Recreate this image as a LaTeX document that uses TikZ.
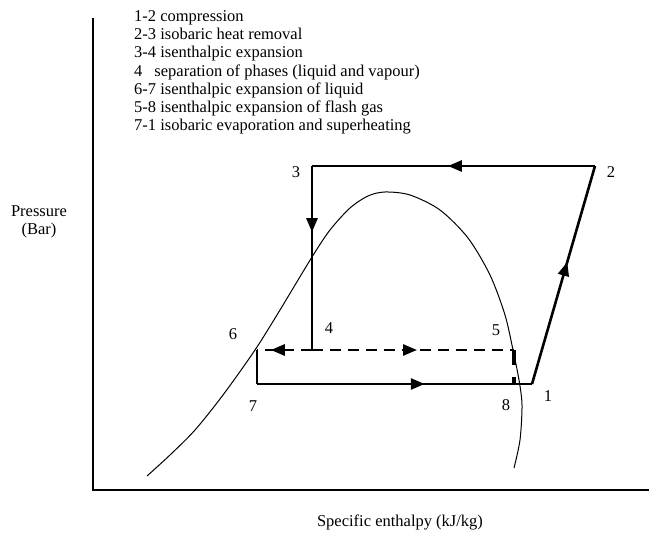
\documentclass[tikz,border=0pt]{standalone}
\usepackage{fontspec}
\setmainfont{Liberation Serif}
\usetikzlibrary{arrows.meta,decorations.markings}
\tikzset{
  axisline/.style={line width=1.8pt,black},
  cycleline/.style={line width=2.6pt,black,line cap=butt,line join=miter},
  dashline/.style={cycleline,dash pattern=on 11pt off 7pt},
  dome/.style={line width=1pt,black},
  lbl/.style={font=\fontsize{16.5}{18.3}\selectfont,inner sep=0pt},
  midarrow/.style={postaction={decorate,decoration={markings,
      mark=at position #1 with {\arrow[solid]{Triangle[length=14pt,width=11pt]}}}}}
}
\begin{document}
\begin{tikzpicture}[x=1pt,y=-1pt]
\useasboundingbox (0,0) rectangle (649,540);
% axes
\coordinate (ytop) at (93,18);
\coordinate (orig) at (93,490);
\coordinate (xend) at (649,490);
\draw[axisline] (ytop) -- (orig) -- (xend);
% legend
\node[lbl,anchor=north west,align=left] (legend) at (134,10) {%
1-2 compression\\
2-3 isobaric heat removal\\
3-4 isenthalpic expansion\\
4\hspace{12pt}separation of phases (liquid and vapour)\\
6-7 isenthalpic expansion of liquid\\
5-8 isenthalpic expansion of flash gas\\
7-1 isobaric evaporation and superheating};
% axis labels
\node[lbl,align=center] (ylab) at (39,222) {Pressure\\(Bar)};
\node[lbl] (xlab) at (400,522) {Specific enthalpy (kJ/kg)};
% dome
\draw[dome] plot[smooth,tension=0.5] coordinates {
 (147,476) (170,455) (195,430) (223,395) (255,350) (280,310) (312,257) (330,230)
 (350,208) (368,196) (385,192) (410,195) (440,210) (468,238) (490,275)
 (505,315) (513,350) (519,380) (522,405) (520,440) (514,468)};
% cycle points
\coordinate (p1) at (532,384);
\coordinate (p2) at (595,166);
\coordinate (p3) at (312,166);
\coordinate (p4) at (312,350);
\coordinate (p5) at (514,350);
\coordinate (p6) at (257,350);
\coordinate (p7) at (257,384);
\coordinate (p8) at (514,384);
% solid lines
\draw[cycleline,midarrow=0.56] (p1) -- (p2);
\draw[cycleline,midarrow=0.52] (p2) -- (p3);
\draw[cycleline,midarrow=0.36] (p3) -- (p4);
\draw[cycleline] (p6) -- (p7);
\draw[cycleline,midarrow=0.61] (p7) -- (p1);
% dashed lines
\draw[dashline,midarrow=0.75] (p4) -- (p6);
\draw[dashline,midarrow=0.52] (p4) -- (p5);
\draw[cycleline,line width=3.6pt,dash pattern=on 15pt off 12pt] (p5) -- (p8);
% point labels
\node[lbl] (l1) at (548,396) {1};
\node[lbl] (l2) at (611,172) {2};
\node[lbl] (l3) at (296,172) {3};
\node[lbl] (l4) at (329,328) {4};
\node[lbl] (l5) at (496,330) {5};
\node[lbl] (l6) at (233,334) {6};
\node[lbl] (l7) at (253,406) {7};
\node[lbl] (l8) at (506,405) {8};
\end{tikzpicture}
\end{document}
